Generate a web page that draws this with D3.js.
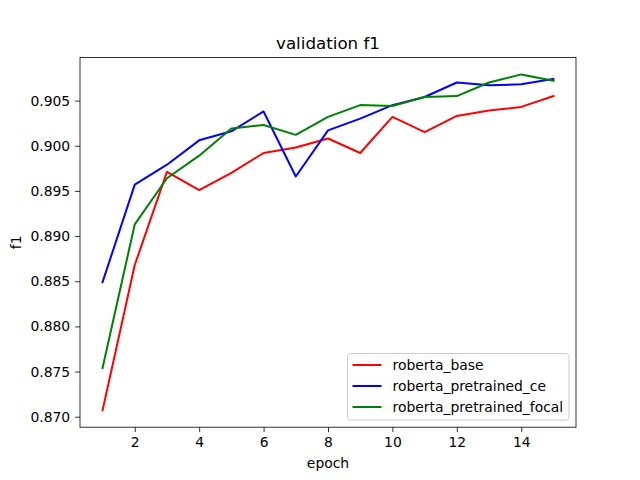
<!DOCTYPE html>
<html><head><meta charset="utf-8">
<script src="https://cdn.jsdelivr.net/npm/d3@7"></script>
<style>body{margin:0;background:#fff}svg{display:block}text{font-family:"DejaVu Sans",sans-serif;fill:#000}</style>
</head><body>
<svg id="c" width="640" height="480"></svg>
<script>
const epochs = [1,2,3,4,5,6,7,8,9,10,11,12,13,14,15];
const robertaBase = [0.8707,0.8868,0.8971,0.8951,0.8970,0.8992,0.8998,0.9008,0.8992,0.9032,0.9015,0.9033,0.9039,0.9043,0.9055];
const robertaCE = [0.8849,0.8957,0.8979,0.9006,0.9016,0.9038,0.8966,0.9017,0.9030,0.9045,0.9054,0.9070,0.9067,0.9068,0.9074];
const robertaFocal = [0.8754,0.8913,0.8964,0.8989,0.9019,0.9023,0.9012,0.9032,0.9045,0.9044,0.9054,0.9055,0.9070,0.9079,0.9072];
const seriesNames = ["roberta_base","roberta_pretrained_ce","roberta_pretrained_focal"];
const seriesColors = ["#ff0000","#0000ff","#008000"];
const xTicks = [2,4,6,8,10,12,14];
const yTicks = [0.870,0.875,0.880,0.885,0.890,0.895,0.900,0.905];

const series = [robertaBase, robertaCE, robertaFocal];
const svg = d3.select("#c");
const L=80, R=576, T=57.6, B=427.2;
const all = series.flat();
const ymin=d3.min(all), ymax=d3.max(all), yr=ymax-ymin;
const x = d3.scaleLinear().domain([1-0.7,15+0.7]).range([L,R]);
const y = d3.scaleLinear().domain([ymin-0.05*yr, ymax+0.05*yr]).range([B,T]);

const line = d3.line().x((d,i)=>x(epochs[i])).y(d=>y(d));
series.forEach((s,k)=>{
  svg.append("path").datum(s).attr("d",line).attr("fill","none")
    .attr("stroke",seriesColors[k]).attr("stroke-width",2).attr("stroke-linejoin","round").attr("stroke-linecap","square");
});

const xa = svg.append("g").attr("transform",`translate(0,${B})`)
  .call(d3.axisBottom(x).tickValues(xTicks).tickFormat(d3.format("d")).tickSize(4.9).tickPadding(4.9));
const ya = svg.append("g").attr("transform",`translate(${L},0)`)
  .call(d3.axisLeft(y).tickValues(yTicks).tickFormat(d3.format(".3f")).tickSize(4.9).tickPadding(4.9));
[xa,ya].forEach(a=>{
  a.select(".domain").remove();
  a.selectAll("line").attr("stroke","#000").attr("stroke-width",0.8);
  a.selectAll("text").style("font-size","13.9px").style("font-family","DejaVu Sans").attr("fill","#000");
});
svg.append("rect").attr("x",L).attr("y",T).attr("width",R-L).attr("height",B-T)
  .attr("fill","none").attr("stroke","#000").attr("stroke-width",0.8);

svg.append("text").attr("x",(L+R)/2).attr("y",T-8.5).attr("text-anchor","middle").style("font-size","16.7px").text("validation f1");
svg.append("text").attr("x",(L+R)/2).attr("y",468).attr("text-anchor","middle").style("font-size","13.9px").text("epoch");
svg.append("text").attr("transform",`translate(21,${(T+B)/2}) rotate(-90)`).attr("text-anchor","middle").style("font-size","13.9px").text("f1");

const lg = svg.append("g");
lg.append("rect").attr("x",347.5).attr("y",353.5).attr("width",221.5).attr("height",66.5).attr("rx",3)
  .attr("fill","#fff").attr("fill-opacity",0.8).attr("stroke","#cccccc").attr("stroke-width",1);
seriesNames.forEach((n,k)=>{
  const yy = 365 + k*21;
  lg.append("line").attr("x1",352.5).attr("x2",381.5).attr("y1",yy).attr("y2",yy).attr("stroke",seriesColors[k]).attr("stroke-width",2);
  lg.append("text").attr("x",392.5).attr("y",yy).attr("dy","0.35em").style("font-size","13.9px").text(n);
});
</script>
</body></html>
